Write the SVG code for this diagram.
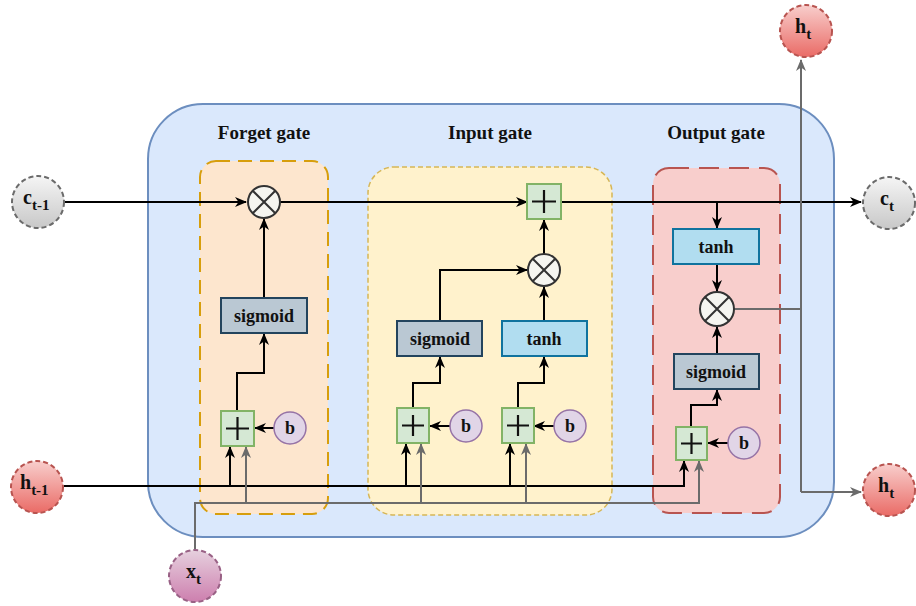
<svg xmlns="http://www.w3.org/2000/svg" width="916" height="606" viewBox="0 0 916 606">
<defs>
<marker id="ab" markerUnits="userSpaceOnUse" viewBox="0 0 12 10" refX="11" refY="5" markerWidth="12" markerHeight="10" orient="auto"><path d="M0,0 L12,5 L0,10 L3.5,5 z" fill="#000"/></marker>
<marker id="ag" markerUnits="userSpaceOnUse" viewBox="0 0 12 10" refX="11" refY="5" markerWidth="12" markerHeight="10" orient="auto"><path d="M0,0 L12,5 L0,10 L3.5,5 z" fill="#6b6b6b"/></marker>
<linearGradient id="gGray" x1="0" y1="0" x2="0" y2="1"><stop offset="0" stop-color="#f5f5f5"/><stop offset="1" stop-color="#c8c8c8"/></linearGradient>
<linearGradient id="gRed" x1="0" y1="0" x2="0" y2="1"><stop offset="0" stop-color="#f8cecc"/><stop offset="1" stop-color="#ea6b66"/></linearGradient>
<linearGradient id="gPink" x1="0" y1="0" x2="0" y2="1"><stop offset="0" stop-color="#e6d0de"/><stop offset="1" stop-color="#cd7fae"/></linearGradient>
<style>
text{font-family:"Liberation Serif","Times New Roman",serif;font-weight:bold;fill:#111;}
.title{font-size:19px;text-anchor:middle;}
.lbl{font-size:18px;text-anchor:middle;}
.cl{font-size:20px;}
.sub{font-size:15px;}
.sig{fill:#bac8d3;stroke:#23445d;stroke-width:2;}
.tanh{fill:#b1ddf0;stroke:#10739e;stroke-width:2;}
.plus{fill:#d5e8d4;stroke:#82b366;stroke-width:2;}
.pl{stroke:#111;stroke-width:2.2;}
.bc{fill:#e1d5e7;stroke:#9673a6;stroke-width:1.5;}
.mul{fill:#f5f5f0;stroke:#333;stroke-width:2;}
.mx{stroke:#333;stroke-width:2;}
.k{fill:none;stroke:#000;stroke-width:2;}
.kg{fill:none;stroke:#6b6b6b;stroke-width:2;}
.cg{fill:url(#gGray);stroke:#6b6b6b;stroke-width:2;stroke-dasharray:5 3;}
.cr{fill:url(#gRed);stroke:#b85450;stroke-width:2;stroke-dasharray:5 3;}
.cp{fill:url(#gPink);stroke:#996185;stroke-width:2;stroke-dasharray:5 3;}
</style>
</defs>

<g id="cell">
<rect x="148" y="104" width="686" height="433" rx="55" ry="55" fill="#dae8fc" stroke="#6c8ebf" stroke-width="2"/>
</g>
<g id="forget-gate">
<rect x="200" y="161" width="128" height="353" rx="16" fill="#ffe6cc" stroke="#d79b00" stroke-width="2" stroke-dasharray="14 8" opacity="0.95"/>
<text class="title" x="264" y="139">Forget gate</text>
</g>
<g id="input-gate">
<rect x="368" y="167" width="244" height="348" rx="26" fill="#fff2cc" stroke="#d6b656" stroke-width="1.5" stroke-dasharray="5 3"/>
<text class="title" x="490" y="139">Input gate</text>
</g>
<g id="output-gate">
<rect x="653" y="168" width="127" height="345" rx="16" fill="#f8cecc" stroke="#b85450" stroke-width="2" stroke-dasharray="20 10"/>
<text class="title" x="716" y="139">Output gate</text>
</g>

<g id="connectors">
<path class="k" d="M65,202 H246" marker-end="url(#ab)"/>
<path class="k" d="M280,202 H527" marker-end="url(#ab)"/>
<path class="k" d="M561,202 H861" marker-end="url(#ab)"/>
<path class="k" d="M717,202 V228" marker-end="url(#ab)"/>
<path class="k" d="M717,264 V291" marker-end="url(#ab)"/>
<path class="k" d="M717,354 V327" marker-end="url(#ab)"/>
<path class="k" d="M691,427 V405 H717 V390" marker-end="url(#ab)"/>
<path class="k" d="M728,443 H708" marker-end="url(#ab)"/>
<path class="k" d="M264,298 V219" marker-end="url(#ab)"/>
<path class="k" d="M237,411 V373 H264 V334" marker-end="url(#ab)"/>
<path class="k" d="M274,428 H255" marker-end="url(#ab)"/>
<path class="k" d="M544,254 V220" marker-end="url(#ab)"/>
<path class="k" d="M544,321 V287" marker-end="url(#ab)"/>
<path class="k" d="M440,321 V270 H527" marker-end="url(#ab)"/>
<path class="k" d="M413,408 V383 H440 V357" marker-end="url(#ab)"/>
<path class="k" d="M518,408 V383 H544 V357" marker-end="url(#ab)"/>
<path class="k" d="M450,426 H430" marker-end="url(#ab)"/>
<path class="k" d="M554,426 H534" marker-end="url(#ab)"/>
<path class="k" d="M64,486 H684 V461" marker-end="url(#ab)"/>
<path class="k" d="M230,486 V447" marker-end="url(#ab)"/>
<path class="k" d="M406,486 V444" marker-end="url(#ab)"/>
<path class="k" d="M510,486 V444" marker-end="url(#ab)"/>
<path class="kg" d="M195,549 V503 H699 V461" marker-end="url(#ag)"/>
<path class="kg" d="M246,503 V447" marker-end="url(#ag)"/>
<path class="kg" d="M421,503 V444" marker-end="url(#ag)"/>
<path class="kg" d="M526,503 V444" marker-end="url(#ag)"/>
<path class="kg" d="M734,309 H801"/>
<path class="kg" d="M801,492 V60" marker-end="url(#ag)"/>
<path class="kg" d="M801,492 H861" marker-end="url(#ag)"/>
</g>

<g id="f-mul"><circle class="mul" cx="264" cy="202" r="16"/><path class="mx" d="M252.7,190.7 L275.3,213.3 M275.3,190.7 L252.7,213.3"/></g>
<g id="f-sigmoid"><rect class="sig" x="221" y="298" width="86" height="35"/><text class="lbl" x="264" y="322">sigmoid</text></g>
<g id="f-plus"><rect class="plus" x="221" y="411" width="33" height="35"/><path class="pl" d="M226,428.5 H249 M237.5,417 V440"/></g>
<g id="f-b"><circle class="bc" cx="290" cy="428" r="16"/><text class="lbl" x="290" y="434">b</text></g>

<g id="i-plus-c"><rect class="plus" x="527" y="184" width="34" height="35"/><path class="pl" d="M532,201.5 H556 M544,190 V213"/></g>
<g id="i-mul"><circle class="mul" cx="544" cy="270" r="16"/><path class="mx" d="M532.7,258.7 L555.3,281.3 M555.3,258.7 L532.7,281.3"/></g>
<g id="i-sigmoid"><rect class="sig" x="397" y="321" width="85" height="35"/><text class="lbl" x="440" y="345">sigmoid</text></g>
<g id="i-tanh"><rect class="tanh" x="502" y="321" width="85" height="35"/><text class="lbl" x="544" y="345">tanh</text></g>
<g id="i-plus1"><rect class="plus" x="397" y="408" width="32" height="35"/><path class="pl" d="M402,425.5 H424 M413,415 V436"/></g>
<g id="i-b1"><circle class="bc" cx="466" cy="426" r="16"/><text class="lbl" x="466" y="432">b</text></g>
<g id="i-plus2"><rect class="plus" x="502" y="408" width="32" height="35"/><path class="pl" d="M507,425.5 H529 M518,415 V436"/></g>
<g id="i-b2"><circle class="bc" cx="570" cy="426" r="16"/><text class="lbl" x="570" y="432">b</text></g>

<g id="o-tanh"><rect class="tanh" x="673" y="229" width="86" height="35"/><text class="lbl" x="716" y="253">tanh</text></g>
<g id="o-mul"><circle class="mul" cx="717" cy="309" r="17"/><path class="mx" d="M705,297 L729,321 M729,297 L705,321"/></g>
<g id="o-sigmoid"><rect class="sig" x="674" y="354" width="85" height="35"/><text class="lbl" x="716" y="378">sigmoid</text></g>
<g id="o-plus"><rect class="plus" x="676" y="427" width="31" height="33"/><path class="pl" d="M681,443.5 H702 M691.5,433 V454"/></g>
<g id="o-b"><circle class="bc" cx="744" cy="443" r="16"/><text class="lbl" x="744" y="449">b</text></g>

<g id="c-prev"><circle class="cg" cx="38" cy="202" r="26"/><text x="23" y="204"><tspan class="cl">c</tspan><tspan class="sub" dy="6">t-1</tspan></text></g>
<g id="c-next"><circle class="cg" cx="889" cy="203" r="26"/><text x="880" y="205"><tspan class="cl">c</tspan><tspan class="sub" dy="6">t</tspan></text></g>
<g id="h-prev"><circle class="cr" cx="37" cy="487" r="26"/><text x="20" y="489"><tspan class="cl">h</tspan><tspan class="sub" dy="6">t-1</tspan></text></g>
<g id="h-next"><circle class="cr" cx="889" cy="490" r="26"/><text x="878" y="492"><tspan class="cl">h</tspan><tspan class="sub" dy="6">t</tspan></text></g>
<g id="h-top"><circle class="cr" cx="806" cy="31" r="26"/><text x="795" y="33"><tspan class="cl">h</tspan><tspan class="sub" dy="6">t</tspan></text></g>
<g id="x-t"><circle class="cp" cx="195" cy="576" r="26"/><text x="186" y="578"><tspan class="cl">x</tspan><tspan class="sub" dy="6">t</tspan></text></g>
</svg>
